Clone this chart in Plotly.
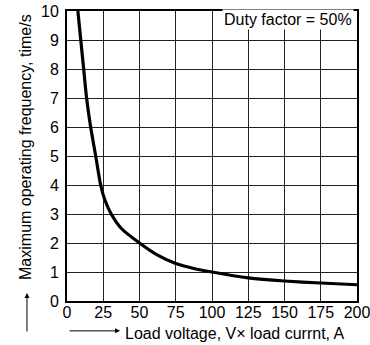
import plotly.graph_objects as go

# load (V x A) vs maximum operating frequency (times/s), duty factor 50%
load = [7.5, 9.5, 11.5, 13.5, 16.3, 19.8, 23.2, 26, 30.5, 37.5, 50, 62.5, 75, 87.5, 100, 125, 150, 175, 200]
freq = [10, 9, 8, 7, 6, 5, 4, 3.5, 3.0, 2.5, 2.0, 1.58, 1.29, 1.12, 1.0, 0.8, 0.69, 0.62, 0.56]

x_ticks = [0, 25, 50, 75, 100, 125, 150, 175, 200]
y_ticks = list(range(0, 11))

font = 'Liberation Sans, Arial, sans-serif'

fig = go.Figure()
fig.add_trace(go.Scatter(x=load, y=freq, mode='lines',
                         line=dict(color='black', width=3.2, shape='spline', smoothing=0.6),
                         showlegend=False))

fig.update_xaxes(range=[0, 200], tickvals=x_ticks, showgrid=True, gridcolor='#222', gridwidth=1,
                 showline=True, linecolor='black', linewidth=2, mirror=True, zeroline=False,
                 ticks='', ticklabelstandoff=-4, ticklabeloverflow='allow', automargin=False,
                 tickfont=dict(size=16, color='black'))
fig.update_yaxes(range=[0, 10], tickvals=y_ticks, showgrid=True, gridcolor='#222', gridwidth=1,
                 showline=True, linecolor='black', linewidth=2, mirror=True, zeroline=False,
                 ticks='', ticklabelstandoff=3, ticklabeloverflow='allow', automargin=False,
                 tickfont=dict(size=16, color='black'))

fig.add_annotation(text='Duty factor = 50%', xref='paper', yref='paper', x=0.99, y=0.97,
                   xanchor='right', yanchor='middle', showarrow=False,
                   font=dict(size=16, color='black'), bgcolor='white')
# y title with arrow below
fig.add_annotation(text='Maximum operating frequency, time/s', xref='paper', yref='paper',
                   x=-0.145, y=0.531, textangle=-90, xanchor='center', yanchor='middle',
                   showarrow=False, font=dict(size=16, color='black'))
fig.add_annotation(text='', xref='paper', yref='paper', x=-0.138, y=0.028,
                   ax=0, ay=40, showarrow=True, arrowhead=2, arrowsize=1, arrowwidth=1,
                   arrowcolor='black')
# x title with arrow on the left
fig.add_annotation(text='Load voltage, V\u00d7 load currnt, A', xref='paper', yref='paper',
                   x=0.193, y=-0.112, xanchor='left', yanchor='middle',
                   showarrow=False, font=dict(size=16, color='black'))
fig.add_annotation(text='', xref='paper', yref='paper', x=0.183, y=-0.103,
                   ax=-52, ay=0, showarrow=True, arrowhead=2, arrowsize=1, arrowwidth=1,
                   arrowcolor='black')

fig.update_layout(
    width=370, height=345,
    margin=dict(l=67, r=13, t=11, b=44),
    plot_bgcolor='white', paper_bgcolor='white',
    font=dict(family=font, color='black'),
)
fig.write_html("out.html", config={'displayModeBar': False},
               post_script="document.body.style.margin='0';")
